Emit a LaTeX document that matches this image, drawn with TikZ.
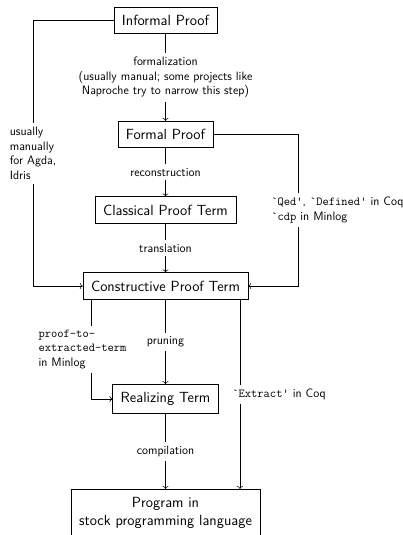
\documentclass[tikz,border=0pt]{standalone}
\usetikzlibrary{arrows.meta}
\newcommand\boxfnt{\sffamily\fontsize{14.7}{17.6}\selectfont}
\newcommand\lblfnt{\sffamily\fontsize{12.2}{14.7}\selectfont}
\newcommand\tq[1]{\texttt{\textasciigrave #1\textquotesingle}}
\begin{document}
\begin{tikzpicture}[x=1pt,y=-1pt,line width=0.55pt,>={To[length=3pt,width=6pt]},
  box/.style={draw, font=\boxfnt, inner xsep=8pt, inner ysep=8pt, align=center},
  lbl/.style={fill=white, font=\lblfnt, inner sep=4pt, align=center},
  conn/.style={->}]
\useasboundingbox (0,0) rectangle (403,535);
\node[box] (inf) at (165.5,20.5) {Informal Proof};
\node[box] (form) at (165.5,134.5) {Formal Proof};
\node[box] (class) at (165.5,210) {Classical Proof Term};
\node[box] (cons) at (165.5,286) {Constructive Proof Term};
\node[box] (real) at (165.5,399) {Realizing Term};
\node[box, anchor=north] (prog) at (165.5,489) {Program in\\stock programming language};
\coordinate (lx) at (33,0);
\coordinate (rx) at (298,0);
\coordinate (ex) at (240,0);
\coordinate (px) at (91,0);
\draw[conn] (inf) -- node[lbl]{formalization\\(usually manual; some projects like\\Naproche try to narrow this step)} (form);
\draw[conn] (form) -- node[lbl]{reconstruction} (class);
\draw[conn] (class) -- node[lbl]{translation} (cons);
\draw[conn] (cons) -- node[lbl]{pruning} (real);
\draw[conn] (real) -- node[lbl]{compilation} (prog);
\draw[conn] (inf.west) -- (inf.west -| lx) -- node[lbl, align=left]{usually\\manually\\for Agda,\\Idris} (cons.west -| lx) -- (cons.west);
\draw[conn] (form.east) -- (form.east -| rx) -- node[lbl, anchor=west, xshift=-31pt, align=left]{\tq{Qed}, \tq{Defined} in Coq\\\texttt{\textasciigrave cdp} in Minlog} (cons.east -| rx) -- (cons.east);
\draw[conn] (cons.south -| ex) -- node[lbl, anchor=west, xshift=-12pt]{\tq{Extract} in Coq} (prog.north -| ex);
\draw[conn] (cons.south -| px) -- node[lbl, align=left, xshift=-8.5pt]{\texttt{proof-to-}\\\texttt{extracted-term}\\in Minlog} (real.west -| px) -- (real.west);
\end{tikzpicture}
\end{document}
